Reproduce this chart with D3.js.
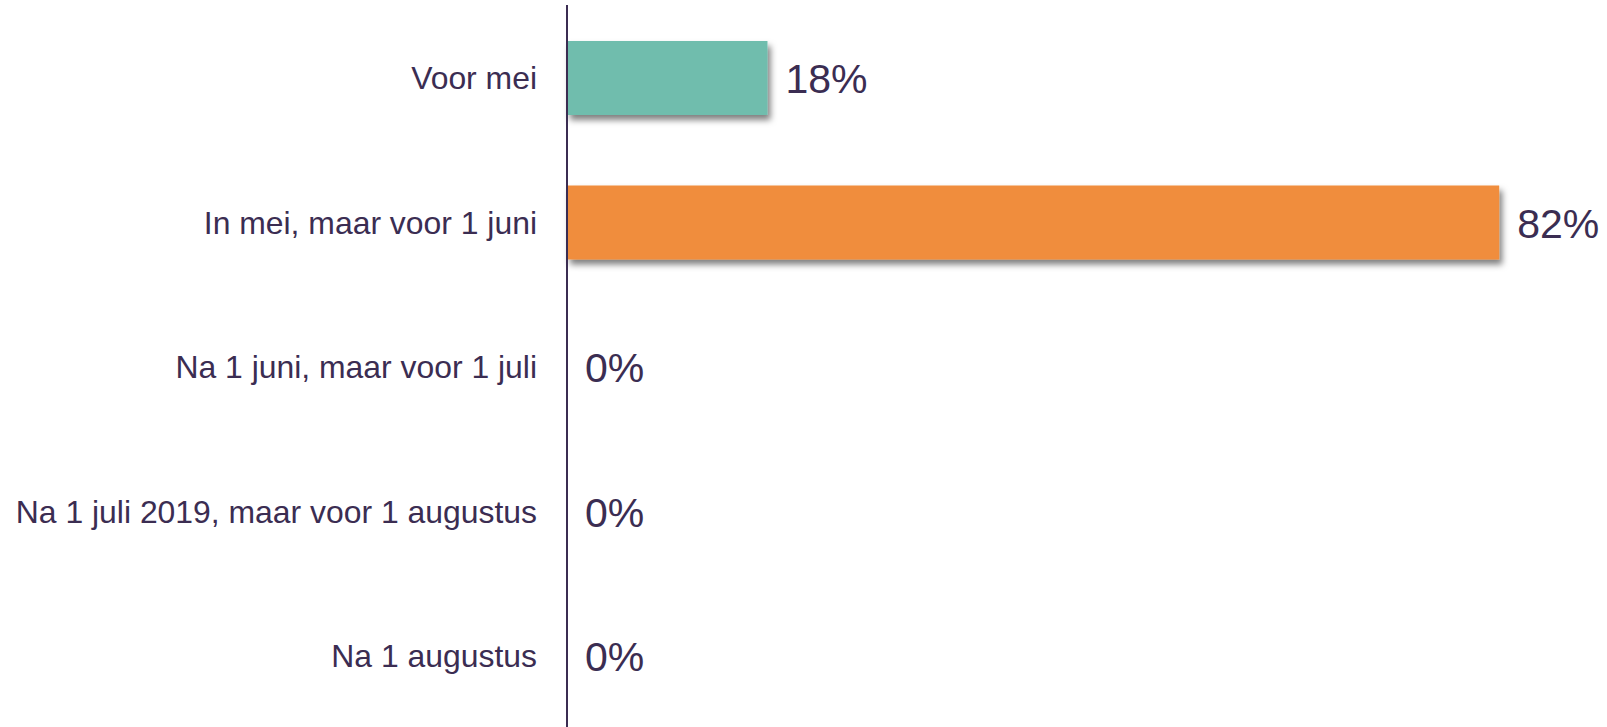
<!DOCTYPE html>
<html>
<head>
<meta charset="utf-8">
<script src="https://cdn.jsdelivr.net/npm/d3@7"></script>
<style>
    html, body { margin: 0; padding: 0; background: #ffffff; }
    svg { display: block; }
    svg text { font-family: "Liberation Sans", Arial, Helvetica, sans-serif; }
</style>
</head>
<body>
<div id="chart"></div>
<script>
// chart data
var categories = ["Voor mei", "In mei, maar voor 1 juni", "Na 1 juni, maar voor 1 juli",
    "Na 1 juli 2019, maar voor 1 augustus", "Na 1 augustus"];
var values = [17.7, 82.3, 0, 0, 0];
var barcolors = ["#6fbdad", "#f08d3c", "#6fbdad", "#6fbdad", "#6fbdad"];

var width = 1607, height = 727;
var textcolor = "#3b2d52";

var svg = d3.select("#chart")
    .append("svg")
    .attr("width", width)
    .attr("height", height);

// drop shadow under the bars
var defs = svg.append("defs");
var filter = defs.append("filter")
    .attr("id", "shadow")
    .attr("x", "-10%").attr("y", "-20%")
    .attr("width", "130%").attr("height", "160%");
filter.append("feDropShadow")
    .attr("dx", 3)
    .attr("dy", 5)
    .attr("stdDeviation", 3)
    .attr("flood-color", "#000000")
    .attr("flood-opacity", 0.5);

// scales
var x = d3.scaleLinear()
    .domain([0, 100])
    .range([567, 1699.7]);

var y = d3.scaleBand()
    .domain(categories)
    .range([5.75, 728.25])
    .paddingInner(0.488)
    .paddingOuter(0.244);

// bars
svg.selectAll("rect.bar")
    .data(values)
    .enter()
    .append("rect")
    .attr("class", "bar")
    .attr("x", x(0))
    .attr("y", function(d, i) { return y(categories[i]); })
    .attr("width", function(d) { return x(d) - x(0); })
    .attr("height", y.bandwidth())
    .attr("fill", function(d, i) { return barcolors[i]; })
    .attr("filter", "url(#shadow)")
    .style("display", function(d) { return d > 0 ? null : "none"; });

// value labels
svg.selectAll("text.value")
    .data(values)
    .enter()
    .append("text")
    .attr("class", "value")
    .attr("x", function(d) { return x(d) + 18; })
    .attr("y", function(d, i) { return y(categories[i]) + y.bandwidth() / 2 + 15; })
    .style("font-size", "41px")
    .attr("fill", textcolor)
    .text(function(d) { return Math.round(d) + "%"; });

// y axis (line only, labels on the left)
var yAxis = svg.append("g")
    .attr("class", "yAxis")
    .attr("transform", "translate(" + x(0) + ",0)")
    .call(d3.axisLeft(y).tickSize(0).tickPadding(30));

yAxis.attr("font-family", null).attr("font-size", null);
yAxis.select(".domain").remove();
yAxis.append("line")
    .attr("x1", 0).attr("x2", 0)
    .attr("y1", 5).attr("y2", height)
    .attr("stroke", textcolor)
    .attr("stroke-width", 2);

yAxis.selectAll(".tick text")
    .style("font-size", "31.9px")
    .attr("fill", textcolor)
    .attr("dy", "0.35em");
</script>
</body>
</html>
